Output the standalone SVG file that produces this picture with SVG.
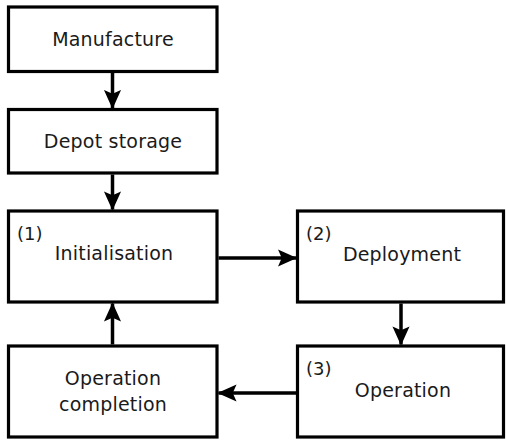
<svg xmlns="http://www.w3.org/2000/svg" width="506" height="440" viewBox="0 0 506 440">
  <style>
    .box { fill: #ffffff; stroke: #000000; stroke-width: 3.2; }
    .label { font-family: "DejaVu Sans", "Liberation Sans", sans-serif; font-size: 19px; fill: #1a1a1a; text-anchor: middle; letter-spacing: 0.2px; }
    .num { font-family: "DejaVu Sans", "Liberation Sans", sans-serif; font-size: 18px; fill: #1a1a1a; }
    .link { fill: none; stroke: #000000; stroke-width: 3.5; }
  </style>
  <defs>
    <marker id="arrow" viewBox="0 0 10 10" refX="9.5" refY="5" markerUnits="userSpaceOnUse" markerWidth="19" markerHeight="19" orient="auto">
      <path d="M0,0.5 L10,5 L0,9.5 L2,5 Z" fill="#000000"/>
    </marker>
  </defs>

  <rect width="506" height="440" fill="#ffffff"/>

  <g id="manufacture">
    <rect class="box" x="8.5" y="7" width="208.5" height="64.5"/>
    <text class="label" x="113" y="46">Manufacture</text>
  </g>

  <g id="depot-storage">
    <rect class="box" x="8.5" y="109.5" width="208.5" height="63.5"/>
    <text class="label" x="113" y="148">Depot storage</text>
  </g>

  <g id="initialisation">
    <rect class="box" x="8.5" y="211" width="208.5" height="91"/>
    <text class="num" x="17" y="240">(1)</text>
    <text class="label" x="114" y="260">Initialisation</text>
  </g>

  <g id="deployment">
    <rect class="box" x="297.5" y="211" width="206" height="91"/>
    <text class="num" x="306" y="240">(2)</text>
    <text class="label" x="402" y="261">Deployment</text>
  </g>

  <g id="operation">
    <rect class="box" x="297.5" y="346" width="206" height="91"/>
    <text class="num" x="306" y="375">(3)</text>
    <text class="label" x="403" y="397">Operation</text>
  </g>

  <g id="operation-completion">
    <rect class="box" x="8.5" y="346" width="208.5" height="91"/>
    <text class="label" x="113" y="385">Operation</text>
    <text class="label" x="113" y="411">completion</text>
  </g>

  <g id="connectors">
    <line class="link" x1="112.5" y1="73" x2="112.5" y2="108" marker-end="url(#arrow)"/>
    <line class="link" x1="112.5" y1="174.5" x2="112.5" y2="209.5" marker-end="url(#arrow)"/>
    <line class="link" x1="218.5" y1="258" x2="296" y2="258" marker-end="url(#arrow)"/>
    <line class="link" x1="401" y1="303.5" x2="401" y2="344.5" marker-end="url(#arrow)"/>
    <line class="link" x1="296" y1="393" x2="218.5" y2="393" marker-end="url(#arrow)"/>
    <line class="link" x1="112.5" y1="344.5" x2="112.5" y2="303.5" marker-end="url(#arrow)"/>
  </g>
</svg>
